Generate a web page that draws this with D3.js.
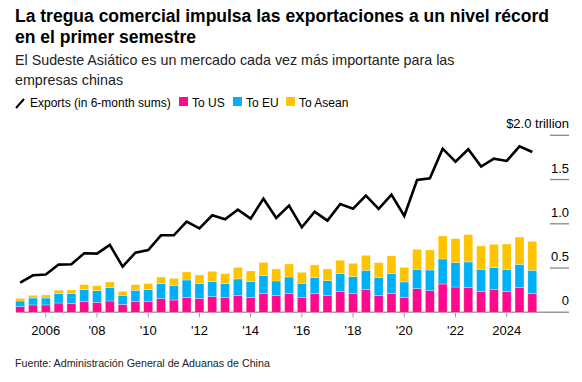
<!DOCTYPE html>
<html>
  <head>
    <meta charset="utf-8">
    <title>Exportaciones de China</title>
    <script src="https://d3js.org/d3.v7.min.js"></script>
    <style>
      body { margin: 0; background: #fff; }
      svg { font-family: "Liberation Sans", Arial, sans-serif; display: block; }
      .title { font-weight: bold; font-size: 17.5px; fill: #000; }
      .subtitle { font-size: 14.3px; fill: #222; }
      .legend text { font-size: 12px; fill: #000; }
      .axis text { font-size: 13px; fill: #000; }
      .source { font-size: 10.7px; fill: #222; }
    </style>
  </head>
  <body>
    <svg width="582" height="382"></svg>
    <script>
      // half-year periods, 2005 H1 .. 2025 H1
      var periods = [];
      for (var yr = 2005; yr <= 2025; yr++) {
        periods.push(yr + " H1");
        if (yr < 2025) periods.push(yr + " H2");
      }

      // $ trillion, 6-month sums
      var exportsTotal = [0.335, 0.418, 0.426, 0.539, 0.542, 0.667, 0.663, 0.761, 0.516, 0.674,
                          0.704, 0.870, 0.870, 1.024, 0.949, 1.096, 1.051, 1.160, 1.058, 1.284,
                          1.066, 1.205, 0.960, 1.137, 1.036, 1.224, 1.171, 1.318, 1.168, 1.330,
                          1.088, 1.495, 1.514, 1.849, 1.702, 1.842, 1.646, 1.736, 1.710, 1.876, 1.812];
      var toUS = [0.064, 0.083, 0.083, 0.105, 0.098, 0.120, 0.113, 0.128, 0.090, 0.120,
                  0.120, 0.154, 0.139, 0.169, 0.158, 0.177, 0.166, 0.192, 0.169, 0.215,
                  0.188, 0.211, 0.166, 0.211, 0.188, 0.234, 0.215, 0.256, 0.192, 0.215,
                  0.166, 0.267, 0.245, 0.320, 0.286, 0.279, 0.234, 0.256, 0.234, 0.279, 0.211];
      var toEU = [0.064, 0.079, 0.079, 0.106, 0.113, 0.136, 0.132, 0.154, 0.102, 0.129,
                  0.136, 0.170, 0.166, 0.196, 0.166, 0.173, 0.158, 0.185, 0.178, 0.199,
                  0.166, 0.188, 0.162, 0.181, 0.170, 0.203, 0.188, 0.219, 0.203, 0.222,
                  0.177, 0.219, 0.233, 0.283, 0.275, 0.290, 0.252, 0.249, 0.252, 0.263, 0.264];
      var toAsean = [0.030, 0.030, 0.034, 0.038, 0.041, 0.057, 0.056, 0.061, 0.045, 0.064,
                     0.068, 0.075, 0.079, 0.091, 0.098, 0.113, 0.113, 0.131, 0.120, 0.151,
                     0.136, 0.147, 0.124, 0.143, 0.132, 0.151, 0.151, 0.169, 0.166, 0.200,
                     0.165, 0.226, 0.226, 0.260, 0.271, 0.309, 0.264, 0.263, 0.286, 0.309, 0.327];

      var seriesKeys = ["us", "eu", "asean"];
      var seriesColors = ["#ff0a8c", "#00b0f6", "#ffc300"];
      var legendLabels = ["To US", "To EU", "To Asean"];
      var yearTicks = [2006, 2008, 2010, 2012, 2014, 2016, 2018, 2020, 2022, 2024];
      var valueTicks = [0, 0.5, 1.0, 1.5, 2.0];

      var rows = periods.map(function(p, i) {
        var parts = p.split(" ");
        return {
          t: +parts[0] + (parts[1] === "H2" ? 0.5 : 0),
          total: exportsTotal[i],
          us: toUS[i], eu: toEU[i], asean: toAsean[i]
        };
      });

      var svg = d3.select("svg");

      var x = d3.scaleLinear().domain([2005, 2025]).range([20.2, 532.3]);
      var y = d3.scaleLinear().domain([0, 2]).range([312.3, 135.3]);
      var barW = x(2005.35) - x(2005);

      // titles
      var title = svg.append("text").attr("class", "title").attr("x", 15);
      title.append("tspan").attr("x", 15).attr("y", 22).text("La tregua comercial impulsa las exportaciones a un nivel récord");
      title.append("tspan").attr("x", 15).attr("y", 43).text("en el primer semestre");

      var sub = svg.append("text").attr("class", "subtitle");
      sub.append("tspan").attr("x", 15).attr("y", 65).text("El Sudeste Asiático es un mercado cada vez más importante para las");
      sub.append("tspan").attr("x", 15).attr("y", 85).text("empresas chinas");

      // legend
      var lg = svg.append("g").attr("class", "legend");
      lg.append("line").attr("x1", 16).attr("y1", 108).attr("x2", 24).attr("y2", 99)
        .attr("stroke", "#000").attr("stroke-width", 2);
      lg.append("text").attr("x", 30).attr("y", 107).text("Exports (in 6-month sums)");
      var legendX = [179, 233, 286];
      seriesKeys.forEach(function(k, i) {
        lg.append("rect").attr("x", legendX[i]).attr("y", 97).attr("width", 9).attr("height", 9)
          .attr("fill", seriesColors[i]);
        lg.append("text").attr("x", legendX[i] + 13).attr("y", 107).text(legendLabels[i]);
      });

      // right value axis
      var ax = svg.append("g").attr("class", "axis");
      valueTicks.forEach(function(v) {
        if (v > 0) {
          ax.append("line").attr("x1", 550).attr("x2", 569).attr("y1", y(v)).attr("y2", y(v))
            .attr("stroke", "#888").attr("stroke-width", 1.3);
        }
        ax.append("text").attr("x", 569).attr("y", y(v) - 7).attr("text-anchor", "end")
          .text(v === 2 ? "$2.0 trillion" : (v === 0 ? "0" : d3.format(".1f")(v)));
      });

      // stacked bars
      var stack = d3.stack().keys(seriesKeys)(rows);
      svg.append("g").selectAll("g")
        .data(stack)
        .join("g")
          .attr("fill", function(d, i) { return seriesColors[i]; })
        .selectAll("rect")
        .data(function(d) { return d; })
        .join("rect")
          .attr("x", function(d) { return x(d.data.t) - barW / 2; })
          .attr("y", function(d) { return y(d[1]); })
          .attr("width", barW)
          .attr("height", function(d) { return y(d[0]) - y(d[1]); })
          .attr("stroke", "#fff")
          .attr("stroke-opacity", 0.5)
          .attr("stroke-width", 0.6);

      // baseline + year ticks
      ax.append("line").attr("x1", 16).attr("x2", 569).attr("y1", y(0)).attr("y2", y(0))
        .attr("stroke", "#999").attr("stroke-width", 1.5);
      yearTicks.forEach(function(yr) {
        ax.append("line").attr("x1", x(yr)).attr("x2", x(yr)).attr("y1", y(0)).attr("y2", y(0) + 5)
          .attr("stroke", "#999").attr("stroke-width", 1);
        ax.append("text").attr("x", x(yr)).attr("y", 335).attr("text-anchor", "middle")
          .text(yr === 2006 || yr === 2024 ? String(yr) : "'" + String(yr).slice(2));
      });

      // exports line
      var line = d3.line()
        .x(function(d) { return x(d.t); })
        .y(function(d) { return y(d.total); });
      svg.append("path").datum(rows)
        .attr("fill", "none")
        .attr("stroke", "#000")
        .attr("stroke-width", 2.6)
        .attr("stroke-linejoin", "miter")
        .attr("d", line);

      svg.append("text").attr("class", "source").attr("x", 15).attr("y", 367)
        .text("Fuente: Administración General de Aduanas de China");
    </script>
  </body>
</html>
